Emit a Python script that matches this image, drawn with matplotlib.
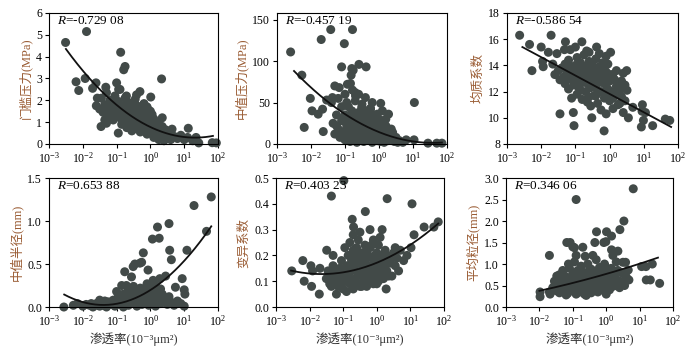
import numpy as np
import matplotlib
matplotlib.use("Agg")
import matplotlib.pyplot as plt
from matplotlib.ticker import LogLocator, NullLocator, FormatStrFormatter

plt.rcParams['font.family'] = ['Liberation Serif', 'Noto Sans CJK SC', 'DejaVu Sans']
plt.rcParams['mathtext.fontset'] = 'custom'
plt.rcParams['mathtext.rm'] = 'Liberation Serif'
plt.rcParams['mathtext.it'] = 'Liberation Serif:italic'

# permeability is kept as log10(k), k in 10^-3 um^2
# --- panel a: threshold pressure (MPa)
logk_a = [-2.51, -1.89, -2.20, -2.12, -1.93, -1.61, -1.71, -1.57, -1.46, -1.32, -1.32, -1.00, -0.88, -0.79,
          -0.75, -0.94, 0.33, 0.01, 0.64, 1.12, 1.43, 1.83, 1.95, -0.31, -0.71, -0.41, -0.19,
          -1.6, -1.5, -1.45, -1.4, -1.35, -1.3, -1.25, -1.2, -1.2, -1.15, -1.1, -1.1, -1.05, -1.0, -1.0,
          -0.95, -0.95, -0.9, -0.9, -0.85, -0.85, -0.8, -0.8, -0.75, -0.75, -0.7, -0.7, -0.65, -0.65,
          -0.6, -0.6, -0.55, -0.55, -0.5, -0.5, -0.45, -0.45, -0.4, -0.4, -0.35, -0.35, -0.3, -0.3,
          -0.25, -0.25, -0.2, -0.2, -0.15, -0.15, -0.1, -0.1, -0.05, -0.05, 0.0, 0.0, 0.05, 0.05,
          0.1, 0.1, 0.15, 0.15, 0.2, 0.2, 0.25, 0.25, 0.3, 0.3, 0.35, 0.4, 0.4, 0.45, 0.5, 0.55, 0.6,
          0.7, 0.8, 0.9, 1.0, 1.1, 1.25, 1.35, -1.3, -0.5, -0.2, 0.35, 0.0,
          -1.35, -1.25, -1.15, -1.05, -0.95, -0.85, -0.75, -0.65, -0.55, -0.45, -0.35, -0.25, -0.15,
          -0.05, 0.05, 0.15, 0.25, 0.35, 0.45, 0.6, -0.7, -0.4, -0.1, 0.1, 0.3]
pc_a = [4.65, 5.15, 2.85, 2.45, 3.0, 2.8, 2.55, 2.1, 0.8, 1.0, 2.6, 2.8, 4.2, 3.4,
        3.55, 2.5, 2.98, 2.15, 0.68, 0.72, 0.05, 0.06, 0.05, 2.4, 2.2, 2.25, 1.85,
        1.75, 1.6, 2.1, 1.45, 1.8, 2.35, 1.3, 1.7, 2.0, 1.5, 1.1, 1.85, 2.2, 1.35, 1.6,
        0.5, 1.95, 1.2, 2.5, 1.45, 0.9, 1.75, 1.05, 1.3, 2.1, 0.75, 1.55, 1.15, 1.9,
        0.95, 1.4, 0.6, 1.7, 1.2, 0.85, 1.5, 2.05, 1.0, 0.7, 1.3, 1.65, 0.55, 0.95,
        1.15, 1.45, 0.8, 1.8, 0.65, 1.05, 1.3, 0.45, 0.9, 1.55, 0.7, 1.1, 0.5, 1.35,
        0.85, 0.3, 0.6, 1.0, 0.4, 0.75, 0.95, 0.2, 0.55, 0.35, 0.8, 0.45, 0.15, 0.65, 0.3, 0.5, 0.2,
        0.35, 0.25, 0.4, 0.2, 0.3, 0.15, 0.3, 0.95, 1.85, 1.6, 1.2, 1.5,
        1.1, 1.55, 1.95, 1.25, 1.65, 1.2, 1.55, 0.85, 1.25, 0.9, 1.05, 0.75, 1.25,
        0.6, 0.85, 0.35, 0.6, 0.3, 0.25, 0.45, 1.85, 1.75, 1.7, 1.15, 0.8]
fit_k_a = [-2.5, -1.5, -1.0, 0.0, 1.0, 1.85]
fit_y_a = [4.35, 2.55, 1.7, 0.85, 0.28, 0.38]

# --- panel b: median pressure (MPa)
logk_b = [-2.6, -2.27, -2.2, -2.02, -1.97, -1.79, -1.7, -1.66, -1.64, -1.54, -1.42, -1.37, -1.3, -1.17,
          -1.1, -1.02, -0.93, -0.84, -0.78, -0.8, -0.76, -0.82, -0.59, -0.38, 0.05, 0.28, 0.36, 1.04,
          1.03, 1.44, 1.7, 1.85, -0.78, -0.69, -0.51, -0.39, -0.25, -0.15,
          -1.35, -1.3, -1.25, -1.2, -1.15, -1.1, -1.1, -1.05, -1.0, -1.0, -0.95, -0.95, -0.9, -0.9,
          -0.85, -0.85, -0.8, -0.8, -0.75, -0.75, -0.7, -0.7, -0.65, -0.65, -0.6, -0.6, -0.55, -0.55,
          -0.5, -0.5, -0.45, -0.45, -0.4, -0.4, -0.35, -0.35, -0.3, -0.3, -0.25, -0.25, -0.2, -0.2,
          -0.15, -0.15, -0.1, -0.1, -0.05, -0.05, 0.0, 0.0, 0.05, 0.05, 0.1, 0.1, 0.15, 0.2, 0.2,
          0.3, 0.35, 0.45, 0.5, 0.6, 0.7, 0.8, -1.0, -0.7, -0.6, -0.4, -1.2, -1.4, -0.2, 0.1,
          -1.25, -1.05, -0.95, -0.85, -0.75, -0.65, -0.55, -0.45, -0.35, -0.25, -0.15, -0.05,
          0.05, 0.15, 0.25, 0.4, 0.55, -0.9, -0.5, -0.3, 0.0, 0.2]
pm_b = [111, 83, 20, 55, 40, 36, 126, 42, 15, 53, 138, 56, 70, 68,
        93, 121, 72, 73, 138, 91, 89, 83, 96, 93, 49, 36, 18, 50,
        5, 1, 1, 1, 65, 58, 44, 40, 43, 34,
        25, 12, 35, 18, 8, 28, 45, 15, 5, 35, 22, 50, 10, 30,
        3, 18, 40, 25, 8, 14, 30, 52, 2, 20, 12, 38, 25, 6,
        16, 48, 30, 3, 10, 22, 35, 15, 5, 26, 12, 42, 20, 2,
        8, 30, 15, 24, 4, 36, 10, 20, 3, 28, 8, 16, 2, 12, 22,
        6, 10, 3, 8, 4, 2, 5, 60, 62, 60, 56, 55, 50, 50, 40,
        22, 30, 12, 28, 35, 10, 18, 14, 25, 4, 18, 12,
        18, 10, 4, 14, 2, 45, 32, 34, 30, 30]
fit_k_b = [-2.5, -1.5, -1.0, 0.0, 1.0, 1.85]
fit_y_b = [86, 55, 36, 12, 2, 3]

# --- panel c: homogeneity coefficient
logk_c = [-2.63, -2.34, -2.27, -2.0, -1.96, -1.94, -1.79, -1.71, -1.66, -1.54, -1.45, -1.04, -1.06, -1.11,
          -1.29, -1.32, -1.15, -1.0, -0.81, -0.67, -0.38, -0.16, -0.52, 0.03, 0.5, 0.95, 0.96, 0.99,
          0.93, 1.05, 1.26, 1.63, 1.76, 0.55, 0.51, 0.68,
          -1.6, -1.5, -1.45, -1.4, -1.35, -1.3, -1.3, -1.25, -1.2, -1.2, -1.15, -1.1, -1.05, -1.0,
          -1.0, -0.95, -0.95, -0.9, -0.9, -0.85, -0.85, -0.8, -0.8, -0.75, -0.75, -0.7, -0.7, -0.65,
          -0.65, -0.6, -0.6, -0.55, -0.55, -0.5, -0.5, -0.45, -0.45, -0.4, -0.4, -0.35, -0.35, -0.3,
          -0.3, -0.25, -0.25, -0.2, -0.2, -0.15, -0.15, -0.1, -0.1, -0.05, -0.05, 0.0, 0.0, 0.05,
          0.1, 0.1, 0.15, 0.2, 0.25, 0.3, 0.35, 0.4, 0.45, -0.6, -0.3, 0.2, 0.4,
          -1.25, -1.15, -1.05, -0.95, -0.85, -0.75, -0.65, -0.55, -0.45, -0.35, -0.25, -0.15, -0.05,
          0.05, 0.15, 0.25, 0.35, -0.4, -0.2, 0.0, 0.3, -0.6, -0.1, 0.1, 0.45, -0.9, -0.3]
hc_c = [16.3, 15.6, 13.6, 15.4, 14.3, 13.9, 15.0, 16.3, 14.1, 14.9, 10.3, 9.4, 10.4, 11.5,
        15.8, 15.2, 15.2, 15.4, 15.8, 15.1, 15.4, 9.0, 10.0, 15.0, 13.6, 10.5, 11.0, 9.8,
        9.3, 10.4, 9.4, 9.9, 9.8, 10.0, 12.1, 10.8,
        13.3, 13.6, 12.9, 13.8, 13.1, 14.1, 12.6, 13.5, 12.2, 14.4, 13.0, 13.7, 12.5, 14.0,
        13.2, 11.8, 14.6, 12.8, 13.6, 12.1, 14.2, 13.3, 11.4, 12.7, 14.8, 13.9, 12.0, 13.1,
        11.2, 14.3, 12.5, 13.6, 10.9, 12.9, 14.0, 11.7, 13.3, 12.3, 14.5, 13.7, 11.1, 12.7,
        13.9, 12.0, 10.6, 13.2, 14.2, 11.5, 12.6, 13.5, 10.3, 12.2, 13.0, 11.3, 12.8, 12.0,
        13.1, 10.7, 11.8, 12.4, 11.0, 12.1, 11.6, 10.4, 12.5, 15.0, 14.9, 13.6, 13.4,
        12.9, 13.9, 13.4, 13.0, 13.6, 13.5, 13.8, 12.3, 12.6, 12.9, 13.3, 13.9, 14.1,
        13.3, 12.9, 12.5, 12.8, 11.7, 11.9, 11.9, 11.1, 11.6, 14.7, 11.5, 11.3, 12.3, 13.1]
fit_k_c = [-2.55, 1.8]
fit_y_c = [15.4, 9.3]

# --- panel d: median radius (mm)
logk_d = [-2.56, -2.28, -2.16, -1.9, -0.76, -0.51, -0.46, -0.31, -0.26, -0.21, -0.07, 0.06, 0.21, 0.26,
          0.28, 0.55, 0.57, 0.62, 0.45, 0.74, 0.94, 1.0, 1.02, 1.08, 1.29, 1.66, 1.8, 0.52, -0.71,
          -0.56, 0.08,
          -2.0, -1.8, -1.7, -1.6, -1.5, -1.45, -1.4, -1.3, -1.25, -1.2, -1.1, -1.05, -1.0, -0.95,
          -0.9, -0.85, -0.8, -0.8, -0.75, -0.7, -0.65, -0.65, -0.6, -0.55, -0.5, -0.5, -0.45, -0.4,
          -0.4, -0.35, -0.3, -0.3, -0.25, -0.2, -0.2, -0.15, -0.1, -0.1, -0.05, 0.0, 0.0, 0.05, 0.1,
          0.15, 0.15, 0.2, 0.25, 0.3, 0.3, 0.4, 0.5, 0.6, 0.7, 0.9, 1.0, -1.5, -1.0, -0.85, 0.1,
          -1.75, -1.55, -1.35, -1.15, -0.95, -0.7, -0.6, -0.45, -0.35, -0.25, -0.15, 0.0, 0.05,
          0.2, 0.35, 0.45, 0.55, 0.8]
rm_d = [0.0, 0.02, 0.04, 0.03, 0.41, 0.47, 0.5, 0.51, 0.52, 0.63, 0.43, 0.79, 0.93, 0.8,
        0.33, 0.97, 0.66, 0.55, 0.36, 0.23, 0.33, 0.2, 0.15, 0.66, 1.18, 0.88, 1.28, 0.11, 0.25,
        0.35, 0.31,
        0.01, 0.02, 0.0, 0.04, 0.01, 0.05, 0.02, 0.0, 0.06, 0.03, 0.08, 0.01, 0.05, 0.12,
        0.03, 0.09, 0.0, 0.15, 0.06, 0.11, 0.02, 0.2, 0.08, 0.14, 0.04, 0.24, 0.1, 0.17,
        0.01, 0.07, 0.13, 0.22, 0.03, 0.09, 0.18, 0.05, 0.14, 0.27, 0.02, 0.1, 0.2, 0.06, 0.16,
        0.01, 0.25, 0.08, 0.13, 0.04, 0.21, 0.1, 0.03, 0.06, 0.02, 0.04, 0.01, 0.08, 0.18, 0.25, 0.3,
        0.04, 0.02, 0.07, 0.04, 0.06, 0.04, 0.16, 0.05, 0.19, 0.12, 0.22, 0.04, 0.14,
        0.18, 0.15, 0.07, 0.12, 0.07]
fit_k_d = [-2.55, -1.5, -1.0, 0.0, 1.0, 1.8]
fit_y_d = [0.15, 0.02, 0.03, 0.2, 0.55, 0.93]

# --- panel e: variation coefficient
logk_e = [-2.53, -2.2, -2.16, -1.96, -1.94, -1.91, -1.71, -1.69, -1.49, -1.35, -0.98, -0.73, -0.69, -0.34,
          0.31, 0.16, 1.05, 1.41, 1.11, 1.02, 1.83, 1.70, 0.28, 0.6,
          -1.5, -1.45, -1.4, -1.35, -1.3, -1.25, -1.2, -1.15, -1.1, -1.1, -1.05, -1.0, -1.0, -0.95,
          -0.95, -0.9, -0.9, -0.85, -0.85, -0.8, -0.8, -0.75, -0.75, -0.7, -0.7, -0.65, -0.65, -0.6,
          -0.6, -0.55, -0.55, -0.5, -0.5, -0.45, -0.45, -0.4, -0.4, -0.35, -0.35, -0.3, -0.3, -0.25,
          -0.25, -0.2, -0.2, -0.15, -0.15, -0.1, -0.1, -0.05, -0.05, 0.0, 0.0, 0.05, 0.05, 0.1, 0.1,
          0.15, 0.2, 0.2, 0.25, 0.3, 0.35, 0.4, 0.45, 0.5, 0.55, 0.6, 0.65, 0.7, 0.8, 0.9,
          -1.3, -1.2, -0.7, -0.5, -0.2, 0.1,
          -1.35, -1.25, -1.15, -1.05, -0.85, -0.75, -0.65, -0.55, -0.45, -0.35, -0.25, -0.15, -0.05,
          0.05, 0.15, 0.25, 0.35, 0.45, 0.55, -0.6, -0.3, 0.0, 0.3, -0.9, -0.4]
cv_e = [0.14, 0.18, 0.1, 0.16, 0.08, 0.14, 0.05, 0.15, 0.22, 0.43, 0.49, 0.34, 0.31, 0.37,
        0.42, 0.30, 0.40, 0.31, 0.28, 0.23, 0.33, 0.31, 0.07, 0.22,
        0.11, 0.14, 0.09, 0.12, 0.16, 0.1, 0.13, 0.08, 0.15, 0.11, 0.18, 0.07, 0.13, 0.23,
        0.1, 0.16, 0.06, 0.2, 0.12, 0.09, 0.25, 0.14, 0.18, 0.07, 0.22, 0.11, 0.16, 0.19,
        0.09, 0.13, 0.26, 0.08, 0.17, 0.21, 0.12, 0.15, 0.1, 0.24, 0.18, 0.08, 0.13, 0.2,
        0.16, 0.11, 0.23, 0.14, 0.19, 0.09, 0.26, 0.17, 0.12, 0.21, 0.15, 0.1, 0.24, 0.18, 0.13,
        0.2, 0.16, 0.11, 0.22, 0.14, 0.19, 0.17, 0.12, 0.21, 0.16, 0.19, 0.14, 0.22, 0.18, 0.2,
        0.2, 0.05, 0.28, 0.29, 0.3, 0.27,
        0.08, 0.14, 0.12, 0.09, 0.15, 0.1, 0.2, 0.17, 0.08, 0.14, 0.11, 0.24, 0.2,
        0.15, 0.13, 0.17, 0.12, 0.19, 0.23, 0.23, 0.22, 0.09, 0.2, 0.12, 0.19]
fit_k_e = [-2.55, -1.5, -0.5, 0.5, 1.0, 1.83]
fit_y_e = [0.14, 0.13, 0.15, 0.2, 0.24, 0.325]

# --- panel f: mean grain size (mm)
logk_f = [-1.98, -1.98, -1.7, -1.7, -1.68, -1.48, -1.18, -1.08, -1.13, -0.9, -0.95, -1.0, -0.7, -0.63,
          -0.34, -0.29, 0.01, -0.01, -0.07, 0.16, 0.16, 0.41, 0.53, 0.81, 0.58, 0.5, 0.66, 0.68,
          1.06, 1.19, 1.2, 1.32, 1.38, 1.6,
          -1.6, -1.55, -1.5, -1.45, -1.4, -1.4, -1.35, -1.3, -1.3, -1.25, -1.2, -1.2, -1.15, -1.1,
          -1.1, -1.05, -1.0, -1.0, -0.95, -0.95, -0.9, -0.9, -0.85, -0.85, -0.8, -0.8, -0.75, -0.75,
          -0.7, -0.7, -0.65, -0.65, -0.6, -0.6, -0.55, -0.55, -0.5, -0.5, -0.45, -0.45, -0.4, -0.4,
          -0.35, -0.35, -0.3, -0.3, -0.25, -0.25, -0.2, -0.2, -0.15, -0.15, -0.1, -0.1, -0.05, -0.05,
          0.0, 0.0, 0.05, 0.1, 0.1, 0.15, 0.15, 0.2, 0.25, 0.3, 0.3, 0.35, 0.4, 0.45, 0.5, 0.55, 0.6,
          -1.2, -0.6, 0.0, -0.9, -0.4, 0.2, 0.35,
          -1.45, -1.35, -1.25, -1.15, -1.05, -0.95, -0.85, -0.75, -0.65, -0.55, -0.45, -0.35, -0.25,
          -0.15, -0.05, 0.05, 0.2, 0.35, 0.45, -0.8, -0.5, 0.05, 0.25, -1.0, -0.3]
dm_f = [0.24, 0.35, 1.2, 0.35, 0.3, 0.72, 1.5, 1.5, 1.0, 2.5, 1.38, 1.4, 1.39, 1.18,
        1.5, 1.75, 1.75, 1.52, 1.5, 1.65, 1.33, 1.8, 2.0, 2.75, 1.04, 1.04, 0.86, 0.63,
        0.94, 0.94, 0.63, 0.63, 1.0, 0.55,
        0.45, 0.6, 0.38, 0.52, 0.75, 0.33, 0.48, 0.62, 0.85, 0.4, 0.55, 0.7, 0.32, 0.47,
        0.9, 0.6, 0.38, 0.75, 0.52, 1.05, 0.3, 0.66, 0.45, 0.85, 0.58, 0.35, 0.72, 0.95,
        0.42, 0.55, 0.3, 0.8, 0.62, 0.48, 1.0, 0.38, 0.7, 0.55, 0.33, 0.88, 0.5, 0.65,
        0.42, 0.78, 0.58, 1.1, 0.35, 0.68, 0.5, 0.92, 0.62, 0.4, 0.75, 0.55, 0.45, 1.0,
        0.65, 0.85, 0.5, 0.72, 0.4, 0.6, 0.9, 0.48, 0.7, 0.55, 1.05, 0.62, 0.45, 0.8, 0.6, 0.5, 0.7,
        0.28, 0.27, 0.3, 1.2, 1.2, 1.2, 1.3,
        0.65, 0.38, 0.72, 0.6, 0.45, 0.8, 0.62, 0.5, 0.65, 0.6, 0.72, 0.55, 0.85,
        0.82, 0.7, 0.85, 0.8, 0.85, 0.55, 0.78, 0.85, 0.62, 0.5, 0.65, 0.4]
fit_k_f = [-2.0, -1.0, 0.0, 1.0, 1.55]
fit_y_f = [0.38, 0.55, 0.78, 1.0, 1.15]

r_labels = ['-0.729 08', '-0.457 19', '-0.586 54', '0.653 88', '0.403 23', '0.346 06']
y_labels = ['门槛压力(MPa)', '中值压力(MPa)', '均质系数', '中值半径(mm)', '变异系数', '平均粒径(mm)']
x_label = '渗透率(10⁻³μm²)'

dot_color = '#424a48'
label_color = '#9a5c34'

fig = plt.figure(figsize=(6.99, 3.49), dpi=100)

panels = [
    ([0.0701, 0.5874, 0.2418, 0.3754], logk_a, pc_a, fit_k_a, fit_y_a, 2, (0, 6), np.arange(0, 7, 1), '%d'),
    ([0.3963, 0.5874, 0.2432, 0.3754], logk_b, pm_b, fit_k_b, fit_y_b, 2, (0, 158), [0, 50, 100, 150], '%d'),
    ([0.7253, 0.5874, 0.2446, 0.3754], logk_c, hc_c, fit_k_c, fit_y_c, 1, (8, 18), np.arange(8, 19, 2), '%d'),
    ([0.0701, 0.1203, 0.2418, 0.3696], logk_d, rm_d, fit_k_d, fit_y_d, 2, (0, 1.5), [0, 0.5, 1.0, 1.5], '%.1f'),
    ([0.3948, 0.1203, 0.2403, 0.3696], logk_e, cv_e, fit_k_e, fit_y_e, 2, (0, 0.5), np.arange(0, 0.51, 0.1), '%.1f'),
    ([0.7239, 0.1203, 0.2389, 0.3696], logk_f, dm_f, fit_k_f, fit_y_f, 2, (0, 3.0), np.arange(0, 3.01, 0.5), '%.1f'),
]

for i, (pos, lk, vals, fk, fy, deg, ylim, yticks, fmt) in enumerate(panels):
    ax = fig.add_axes(pos)
    k = 10.0 ** np.array(lk)
    ax.scatter(k, vals, s=42, color=dot_color, edgecolors='none', zorder=2, clip_on=False)

    # trend curve, smoothed with a low order polynomial in log k
    coef = np.polyfit(fk, fy, deg)
    xs = np.linspace(fk[0], fk[-1], 200)
    ax.plot(10.0 ** xs, np.polyval(coef, xs), color='#111111', lw=1.3, zorder=3)

    ax.set_xscale('log')
    ax.set_xlim(1e-3, 1e2)
    ax.set_ylim(*ylim)
    ax.xaxis.set_major_locator(LogLocator(base=10, numticks=10))
    ax.xaxis.set_minor_locator(NullLocator())
    ax.set_yticks(yticks)
    ax.yaxis.set_major_formatter(FormatStrFormatter(fmt))
    ax.tick_params(direction='out', length=3, width=0.8, labelsize=8.5, pad=2)
    for sp in ax.spines.values():
        sp.set_linewidth(0.8)

    ax.set_ylabel(y_labels[i], fontsize=9, color=label_color, labelpad=3)
    if i >= 3:
        ax.set_xlabel(x_label, fontsize=9, color='#333333', labelpad=3)
    ax.text(0.045, 0.985, '$R$=' + r_labels[i], transform=ax.transAxes,
            ha='left', va='top', fontsize=9.5)

fig.savefig('out.png', dpi=100)
